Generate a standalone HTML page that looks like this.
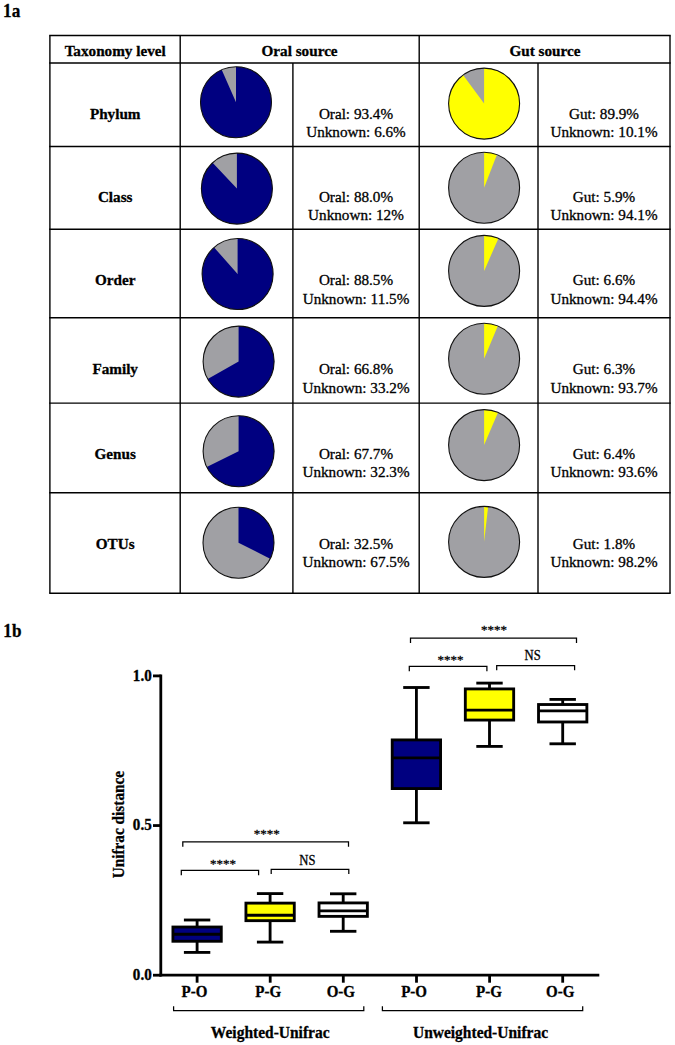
<!DOCTYPE html>
<html><head><meta charset="utf-8"><title>Figure 1</title>
<style>
html,body{margin:0;padding:0;background:#fff}
svg{display:block}
text{font-family:"Liberation Serif",serif;fill:#000;stroke:#000;stroke-width:0.3px;paint-order:stroke fill}
.b{font-weight:bold}
</style></head>
<body>
<svg width="675" height="1045" viewBox="0 0 675 1045">
<rect width="675" height="1045" fill="#fff"/>
<text class="b" transform="translate(3.1,16.6) scale(0.955,1)" font-size="18">1a</text>
<g stroke="#000" stroke-width="1.4" fill="none" shape-rendering="auto">
<line x1="49.199" y1="35.5" x2="670.7" y2="35.5"/>
<line x1="49.199" y1="63.0" x2="670.7" y2="63.0"/>
<line x1="49.199" y1="146.5" x2="670.7" y2="146.5"/>
<line x1="49.199" y1="229.2" x2="670.7" y2="229.2"/>
<line x1="49.199" y1="317.7" x2="670.7" y2="317.7"/>
<line x1="49.199" y1="403.1" x2="670.7" y2="403.1"/>
<line x1="49.199" y1="492.8" x2="670.7" y2="492.8"/>
<line x1="49.199" y1="593.2" x2="670.7" y2="593.2"/>
<line x1="49.9" y1="35.5" x2="49.9" y2="593.2"/>
<line x1="180.2" y1="35.5" x2="180.2" y2="593.2"/>
<line x1="292.9" y1="63.0" x2="292.9" y2="593.2"/>
<line x1="419.2" y1="35.5" x2="419.2" y2="593.2"/>
<line x1="538.0" y1="63.0" x2="538.0" y2="593.2"/>
<line x1="670.0" y1="35.5" x2="670.0" y2="593.2"/>
</g>
<text class="b" x="115.2" y="56" font-size="15.2" text-anchor="middle">Taxonomy level</text>
<text class="b" x="299.6" y="56" font-size="15.2" text-anchor="middle">Oral source</text>
<text class="b" x="545.0" y="56" font-size="15.2" text-anchor="middle">Gut source</text>
<text class="b" x="115.2" y="118.9" font-size="15.2" text-anchor="middle">Phylum</text>
<circle cx="236.0" cy="102.2" r="35.5" fill="#a0a0a4"/>
<path d="M236.0 102.2 L236.0 66.7 A35.5 35.5 0 1 1 221.70 69.71 Z" fill="#000080"/>
<circle cx="236.0" cy="102.2" r="35.5" fill="none" stroke="#111" stroke-width="1.1"/>
<text x="356.0" y="118.9" font-size="15.2" text-anchor="middle">Oral: 93.4%</text>
<text x="356.0" y="137.3" font-size="15.2" text-anchor="middle">Unknown: 6.6%</text>
<circle cx="484.1" cy="103.6" r="35.5" fill="#a0a0a4"/>
<path d="M484.1 103.6 L484.1 68.1 A35.5 35.5 0 1 1 463.05 75.01 Z" fill="#ffff00"/>
<circle cx="484.1" cy="103.6" r="35.5" fill="none" stroke="#111" stroke-width="1.1"/>
<text x="604.0" y="118.9" font-size="15.2" text-anchor="middle">Gut: 89.9%</text>
<text x="604.0" y="137.3" font-size="15.2" text-anchor="middle">Unknown: 10.1%</text>
<text class="b" x="115.2" y="202.0" font-size="15.2" text-anchor="middle">Class</text>
<circle cx="236.9" cy="188.6" r="35.5" fill="#a0a0a4"/>
<path d="M236.9 188.6 L236.9 153.1 A35.5 35.5 0 1 1 212.60 162.72 Z" fill="#000080"/>
<circle cx="236.9" cy="188.6" r="35.5" fill="none" stroke="#111" stroke-width="1.1"/>
<text x="356.0" y="202.0" font-size="15.2" text-anchor="middle">Oral: 88.0%</text>
<text x="356.0" y="220.4" font-size="15.2" text-anchor="middle">Unknown: 12%</text>
<circle cx="484.1" cy="187.7" r="35.5" fill="#a0a0a4"/>
<path d="M484.1 187.7 L484.1 152.2 A35.5 35.5 0 0 1 496.96 154.61 Z" fill="#ffff00"/>
<circle cx="484.1" cy="187.7" r="35.5" fill="none" stroke="#111" stroke-width="1.1"/>
<text x="604.0" y="202.0" font-size="15.2" text-anchor="middle">Gut: 5.9%</text>
<text x="604.0" y="220.4" font-size="15.2" text-anchor="middle">Unknown: 94.1%</text>
<text class="b" x="115.2" y="285.4" font-size="15.2" text-anchor="middle">Order</text>
<circle cx="237.6" cy="274.05" r="35.5" fill="#a0a0a4"/>
<path d="M237.6 274.05 L237.6 238.55 A35.5 35.5 0 1 1 214.12 247.42 Z" fill="#000080"/>
<circle cx="237.6" cy="274.05" r="35.5" fill="none" stroke="#111" stroke-width="1.1"/>
<text x="356.0" y="285.4" font-size="15.2" text-anchor="middle">Oral: 88.5%</text>
<text x="356.0" y="303.799" font-size="15.2" text-anchor="middle">Unknown: 11.5%</text>
<circle cx="484.1" cy="270.9" r="35.5" fill="#a0a0a4"/>
<path d="M484.1 270.9 L484.1 235.399 A35.5 35.5 0 0 1 498.40 238.41 Z" fill="#ffff00"/>
<circle cx="484.1" cy="270.9" r="35.5" fill="none" stroke="#111" stroke-width="1.1"/>
<text x="604.0" y="285.4" font-size="15.2" text-anchor="middle">Gut: 6.6%</text>
<text x="604.0" y="303.799" font-size="15.2" text-anchor="middle">Unknown: 94.4%</text>
<text class="b" x="115.2" y="374.1" font-size="15.2" text-anchor="middle">Family</text>
<circle cx="238.6" cy="361.6" r="35.5" fill="#a0a0a4"/>
<path d="M238.6 361.6 L238.6 326.1 A35.5 35.5 0 1 1 207.71 379.09 Z" fill="#000080"/>
<circle cx="238.6" cy="361.6" r="35.5" fill="none" stroke="#111" stroke-width="1.1"/>
<text x="356.0" y="374.1" font-size="15.2" text-anchor="middle">Oral: 66.8%</text>
<text x="356.0" y="392.5" font-size="15.2" text-anchor="middle">Unknown: 33.2%</text>
<circle cx="484.1" cy="358.8" r="35.5" fill="#a0a0a4"/>
<path d="M484.1 358.8 L484.1 323.3 A35.5 35.5 0 0 1 497.79 326.05 Z" fill="#ffff00"/>
<circle cx="484.1" cy="358.8" r="35.5" fill="none" stroke="#111" stroke-width="1.1"/>
<text x="604.0" y="374.1" font-size="15.2" text-anchor="middle">Gut: 6.3%</text>
<text x="604.0" y="392.5" font-size="15.2" text-anchor="middle">Unknown: 93.7%</text>
<text class="b" x="115.2" y="458.8" font-size="15.2" text-anchor="middle">Genus</text>
<circle cx="238.6" cy="451.3" r="35.5" fill="#a0a0a4"/>
<path d="M238.6 451.3 L238.6 415.8 A35.5 35.5 0 1 1 206.77 467.02 Z" fill="#000080"/>
<circle cx="238.6" cy="451.3" r="35.5" fill="none" stroke="#111" stroke-width="1.1"/>
<text x="356.0" y="458.8" font-size="15.2" text-anchor="middle">Oral: 67.7%</text>
<text x="356.0" y="477.2" font-size="15.2" text-anchor="middle">Unknown: 32.3%</text>
<circle cx="484.1" cy="445.1" r="35.5" fill="#a0a0a4"/>
<path d="M484.1 445.1 L484.1 409.6 A35.5 35.5 0 0 1 497.99 412.43 Z" fill="#ffff00"/>
<circle cx="484.1" cy="445.1" r="35.5" fill="none" stroke="#111" stroke-width="1.1"/>
<text x="604.0" y="458.8" font-size="15.2" text-anchor="middle">Gut: 6.4%</text>
<text x="604.0" y="477.2" font-size="15.2" text-anchor="middle">Unknown: 93.6%</text>
<text class="b" x="115.2" y="548.8" font-size="15.2" text-anchor="middle">OTUs</text>
<circle cx="238.5" cy="542.7" r="35.5" fill="#a0a0a4"/>
<path d="M238.5 542.7 L238.5 507.200 A35.5 35.5 0 0 1 270.13 558.82 Z" fill="#000080"/>
<circle cx="238.5" cy="542.7" r="35.5" fill="none" stroke="#111" stroke-width="1.1"/>
<text x="356.0" y="548.8" font-size="15.2" text-anchor="middle">Oral: 32.5%</text>
<text x="356.0" y="567.199" font-size="15.2" text-anchor="middle">Unknown: 67.5%</text>
<circle cx="484.1" cy="541.9" r="35.5" fill="#a0a0a4"/>
<path d="M484.1 541.9 L484.1 506.4 A35.5 35.5 0 0 1 488.11 506.63 Z" fill="#ffff00"/>
<circle cx="484.1" cy="541.9" r="35.5" fill="none" stroke="#111" stroke-width="1.1"/>
<text x="604.0" y="548.8" font-size="15.2" text-anchor="middle">Gut: 1.8%</text>
<text x="604.0" y="567.199" font-size="15.2" text-anchor="middle">Unknown: 98.2%</text>
<text class="b" transform="translate(3.3,636.5) scale(0.955,1)" font-size="18">1b</text>
<g stroke="#000" stroke-width="2.8" fill="none" stroke-linecap="butt">
<line x1="160.8" y1="674.5" x2="160.8" y2="976.6"/>
<line x1="159.4" y1="975.2" x2="599.3" y2="975.2"/>
<line x1="153" y1="675.9" x2="160.8" y2="675.9"/>
<line x1="153" y1="825.55" x2="160.8" y2="825.55"/>
<line x1="153" y1="975.2" x2="160.8" y2="975.2"/>
<line x1="197.1" y1="975.2" x2="197.1" y2="982.7"/>
<line x1="270.2" y1="975.2" x2="270.2" y2="982.7"/>
<line x1="343.3" y1="975.2" x2="343.3" y2="982.7"/>
<line x1="416.5" y1="975.2" x2="416.5" y2="982.7"/>
<line x1="489.6" y1="975.2" x2="489.6" y2="982.7"/>
<line x1="562.7" y1="975.2" x2="562.7" y2="982.7"/>
</g>
<text class="b" transform="translate(151.7,680.8) scale(0.955,1)" font-size="15.8" text-anchor="end">1.0</text>
<text class="b" transform="translate(151.7,830.4) scale(0.955,1)" font-size="15.8" text-anchor="end">0.5</text>
<text class="b" transform="translate(151.7,980.1) scale(0.955,1)" font-size="15.8" text-anchor="end">0.0</text>
<text class="b" font-size="16.2" text-anchor="middle" transform="translate(124.4,824.6) rotate(-90) scale(0.945,1)">Unifrac distance</text>
<text class="b" transform="translate(194.4,996.6) scale(0.95,1)" font-size="15.8" text-anchor="middle">P-O</text>
<text class="b" transform="translate(268.2,996.6) scale(0.95,1)" font-size="15.8" text-anchor="middle">P-G</text>
<text class="b" transform="translate(340.8,996.6) scale(0.95,1)" font-size="15.8" text-anchor="middle">O-G</text>
<text class="b" transform="translate(414.1,996.6) scale(0.95,1)" font-size="15.8" text-anchor="middle">P-O</text>
<text class="b" transform="translate(489.0,996.6) scale(0.95,1)" font-size="15.8" text-anchor="middle">P-G</text>
<text class="b" transform="translate(560.2,996.6) scale(0.95,1)" font-size="15.8" text-anchor="middle">O-G</text>
<text class="b" transform="translate(270.2,1037.5) scale(0.957,1)" font-size="16.2" text-anchor="middle">Weighted-Unifrac</text>
<text class="b" transform="translate(480.5,1037.5) scale(0.957,1)" font-size="16.2" text-anchor="middle">Unweighted-Unifrac</text>
<g stroke="#000" stroke-width="1.25" fill="none">
<path d="M173.6 1006.2 V1010.7 H363.8 V1006.2"/>
<path d="M382.4 1006.2 V1010.7 H582.7 V1006.2"/>
<path d="M182.8 846.699 V841.9 H348.5 V846.699"/>
<path d="M181.3 875.199 V870.4 H258.6 V875.199"/>
<path d="M271.2 874.099 V869.3 H348.8 V874.099"/>
<path d="M410.5 642.9 V638.1 H576.5 V642.9"/>
<path d="M409.3 671.199 V666.4 H486.9 V671.199"/>
<path d="M496.7 670.3 V665.5 H574.6 V670.3"/>
</g>
<text x="266.7" y="837.699" font-size="13" text-anchor="middle">****</text>
<text x="222.9" y="867.9" font-size="13" text-anchor="middle">****</text>
<text transform="translate(307.4,864.6) scale(0.93,1)" font-size="13.6" text-anchor="middle">NS</text>
<text x="494.1" y="633.6" font-size="13" text-anchor="middle">****</text>
<text x="450.5" y="663.8" font-size="13" text-anchor="middle">****</text>
<text transform="translate(532.7,660.4) scale(0.93,1)" font-size="13.6" text-anchor="middle">NS</text>
<g stroke="#000" stroke-width="2.85" fill="none">
<line x1="197.1" y1="920.0" x2="197.1" y2="952.4"/>
<line x1="183.9" y1="920.0" x2="210.299" y2="920.0"/>
<line x1="183.9" y1="952.4" x2="210.299" y2="952.4"/>
<rect x="172.93" y="927.02" width="48.35" height="14.25" fill="#000080"/>
<line x1="172.93" y1="934.2" x2="221.27" y2="934.2"/>
<line x1="270.1" y1="893.6" x2="270.1" y2="942.1"/>
<line x1="256.900" y1="893.6" x2="283.3" y2="893.6"/>
<line x1="256.900" y1="942.1" x2="283.3" y2="942.1"/>
<rect x="245.93" y="903.12" width="48.35" height="17.55" fill="#ffff00"/>
<line x1="245.93" y1="915.2" x2="294.28" y2="915.2"/>
<line x1="343.2" y1="893.8" x2="343.2" y2="931.3"/>
<line x1="330.0" y1="893.8" x2="356.4" y2="893.8"/>
<line x1="330.0" y1="931.3" x2="356.4" y2="931.3"/>
<rect x="319.02" y="902.92" width="48.35" height="13.45" fill="#fff"/>
<line x1="319.02" y1="910.8" x2="367.38" y2="910.8"/>
<line x1="416.4" y1="687.5" x2="416.4" y2="822.8"/>
<line x1="403.2" y1="687.5" x2="429.599" y2="687.5"/>
<line x1="403.2" y1="822.8" x2="429.599" y2="822.8"/>
<rect x="392.22" y="739.92" width="48.35" height="48.65" fill="#000080"/>
<line x1="392.22" y1="757.9" x2="440.57" y2="757.9"/>
<line x1="489.5" y1="683.1" x2="489.5" y2="746.4"/>
<line x1="476.3" y1="683.1" x2="502.7" y2="683.1"/>
<line x1="476.3" y1="746.4" x2="502.7" y2="746.4"/>
<rect x="465.32" y="688.92" width="48.35" height="31.15" fill="#ffff00"/>
<line x1="465.32" y1="710.1" x2="513.68" y2="710.1"/>
<line x1="562.7" y1="699.4" x2="562.7" y2="743.8"/>
<line x1="549.5" y1="699.4" x2="575.900" y2="699.4"/>
<line x1="549.5" y1="743.8" x2="575.900" y2="743.8"/>
<rect x="538.52" y="704.52" width="48.35" height="17.45" fill="#fff"/>
<line x1="538.52" y1="710.9" x2="586.88" y2="710.9"/>
</g>
</svg>
</body></html>
